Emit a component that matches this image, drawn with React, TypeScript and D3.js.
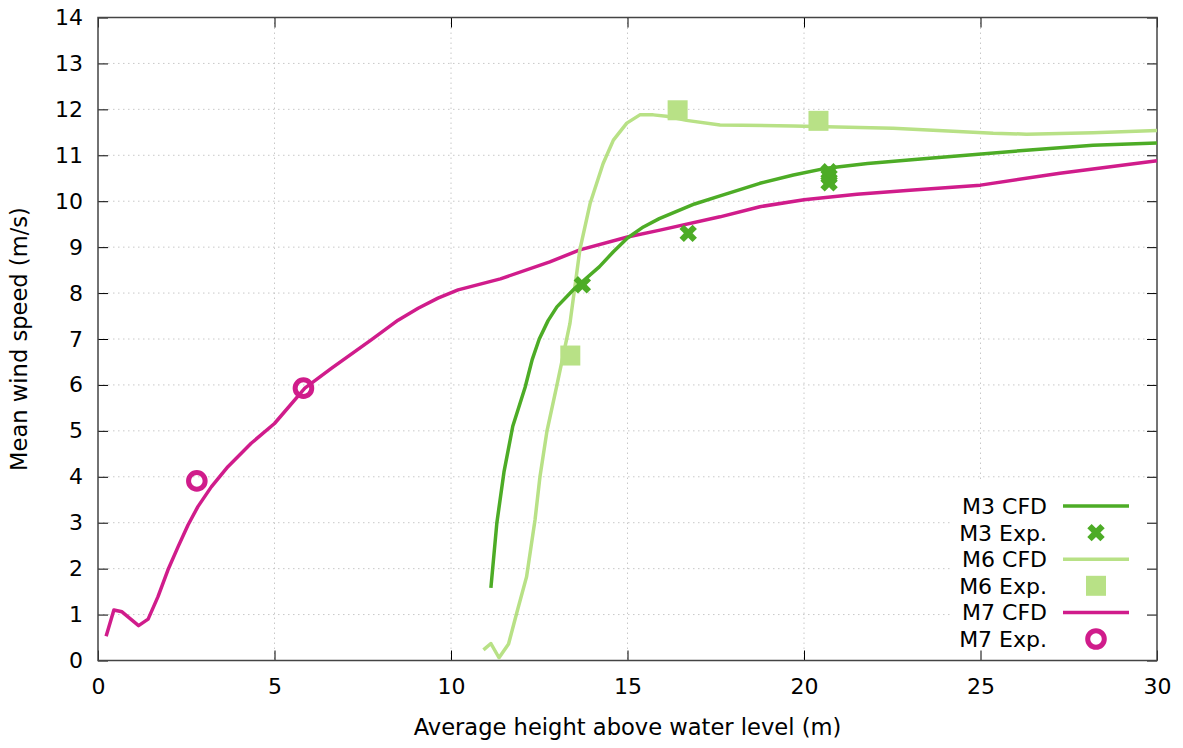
import { useEffect, useRef } from "react"
import * as d3 from "d3"

// M3 CFD (dark green)
const m3CfdX = [11.13, 11.3, 11.5, 11.75, 12.1, 12.3, 12.5, 12.75, 13.0, 13.5, 14.2, 14.6, 15.0, 15.45, 15.9, 16.9, 17.6, 18.75, 19.7, 20.64, 21.8, 23.47, 26.3, 28.19, 30.0]
const m3CfdY = [1.58, 3.0, 4.1, 5.1, 5.95, 6.55, 7.0, 7.4, 7.7, 8.1, 8.57, 8.9, 9.2, 9.44, 9.62, 9.94, 10.11, 10.39, 10.57, 10.72, 10.82, 10.93, 11.11, 11.22, 11.27]
const m3ExpX = [13.72, 16.72, 20.71, 20.71, 20.71]
const m3ExpY = [8.18, 9.3, 10.64, 10.54, 10.4]

// M6 CFD (light green)
const m6CfdX = [10.92, 11.13, 11.36, 11.63, 11.86, 12.14, 12.38, 12.52, 12.72, 12.99, 13.37, 13.65, 13.94, 14.31, 14.6, 14.98, 15.35, 15.73, 16.1, 16.67, 17.62, 19.7, 22.52, 25.36, 26.3, 28.19, 30.0]
const m6CfdY = [0.23, 0.37, 0.06, 0.36, 1.03, 1.82, 3.06, 4.0, 5.0, 5.96, 7.34, 8.94, 9.95, 10.82, 11.33, 11.7, 11.88, 11.88, 11.85, 11.76, 11.66, 11.64, 11.59, 11.48, 11.46, 11.49, 11.54]
const m6ExpX = [13.38, 16.42, 20.41]
const m6ExpY = [6.64, 11.98, 11.75]

// M7 CFD (magenta)
const m7CfdX = [0.23, 0.45, 0.68, 1.15, 1.42, 1.7, 1.98, 2.27, 2.55, 2.83, 3.21, 3.68, 4.34, 5.0, 5.86, 6.61, 7.74, 8.5, 9.07, 9.63, 10.2, 11.4, 12.8, 13.65, 15.0, 15.92, 17.62, 18.75, 20.0, 21.5, 23.0, 25.0, 27.25, 30.0]
const m7CfdY = [0.53, 1.1, 1.06, 0.76, 0.9, 1.39, 1.97, 2.48, 2.95, 3.35, 3.78, 4.22, 4.73, 5.16, 5.93, 6.36, 6.98, 7.41, 7.67, 7.89, 8.07, 8.31, 8.68, 8.94, 9.22, 9.37, 9.66, 9.88, 10.03, 10.15, 10.24, 10.35, 10.61, 10.88]
const m7ExpX = [2.8, 5.82]
const m7ExpY = [3.91, 5.93]

const xTicks = [0, 5, 10, 15, 20, 25, 30]
const yTicks = [0, 1, 2, 3, 4, 5, 6, 7, 8, 9, 10, 11, 12, 13, 14]

const legendLabels = ["M3 CFD", "M3 Exp.", "M6 CFD", "M6 Exp.", "M7 CFD", "M7 Exp."]

const C_M3 = "#4dac26"
const C_M6 = "#b8e186"
const C_M7 = "#d01c8b"

const zip = (xs: number[], ys: number[]) => xs.map((x, i) => [x, ys[i]] as [number, number])

export default function App() {
  const ref = useRef<SVGSVGElement>(null)

  useEffect(() => {
    if (!ref.current) return
    const el = ref.current
    d3.select(el).selectAll("*").remove()

    const W = 1183
    const H = 748
    const margin = { top: 17.5, right: 26, bottom: 87.5, left: 98 }
    const iW = W - margin.left - margin.right
    const iH = H - margin.top - margin.bottom
    const font = "'DejaVu Sans', sans-serif"

    const svg = d3.select(el).attr("width", W).attr("height", H).style("font-family", font)
    svg.append("rect").attr("width", W).attr("height", H).attr("fill", "#fff")

    const g = svg.append("g").attr("transform", `translate(${margin.left},${margin.top})`)

    const x = d3.scaleLinear().domain([0, 30]).range([0, iW])
    const y = d3.scaleLinear().domain([0, 14]).range([iH, 0])

    // Grid
    g.append("g")
      .selectAll("line")
      .data(yTicks.slice(1, -1))
      .join("line")
      .attr("x1", 0)
      .attr("x2", iW)
      .attr("y1", (d) => y(d))
      .attr("y2", (d) => y(d))
      .attr("stroke", "#c8c8c8")
      .attr("stroke-width", 1)
      .attr("stroke-dasharray", "1.5,3.5")
    g.append("g")
      .selectAll("line")
      .data(xTicks.slice(1, -1))
      .join("line")
      .attr("x1", (d) => x(d))
      .attr("x2", (d) => x(d))
      .attr("y1", 0)
      .attr("y2", iH)
      .attr("stroke", "#c8c8c8")
      .attr("stroke-width", 1)
      .attr("stroke-dasharray", "1.5,3.5")

    // Opaque key box
    const keyX = x(24.17)
    const keyY = y(3.94)
    g.append("rect")
      .attr("x", keyX)
      .attr("y", keyY)
      .attr("width", iW - keyX)
      .attr("height", iH - keyY)
      .attr("fill", "#fff")

    // Axes with mirrored inward ticks
    const tickLen = 10
    g.append("g")
      .attr("transform", `translate(0,${iH})`)
      .call(d3.axisBottom(x).tickValues(xTicks).tickSize(-tickLen).tickPadding(18))
      .call((ax) => ax.select(".domain").remove())
      .call((ax) => ax.selectAll(".tick line").attr("stroke", "#000"))
      .call((ax) => ax.selectAll(".tick text").attr("fill", "#000").attr("font-size", 22).attr("font-family", font))
    g.append("g")
      .call(d3.axisTop(x).tickValues(xTicks).tickSize(-tickLen).tickFormat(() => ""))
      .call((ax) => ax.select(".domain").remove())
      .call((ax) => ax.selectAll(".tick line").attr("stroke", "#000"))
    g.append("g")
      .call(d3.axisLeft(y).tickValues(yTicks).tickSize(-tickLen).tickPadding(15))
      .call((ax) => ax.select(".domain").remove())
      .call((ax) => ax.selectAll(".tick line").attr("stroke", "#000"))
      .call((ax) => ax.selectAll(".tick text").attr("fill", "#000").attr("font-size", 22).attr("font-family", font))
    g.append("g")
      .attr("transform", `translate(${iW},0)`)
      .call(d3.axisRight(y).tickValues(yTicks).tickSize(-tickLen).tickFormat(() => ""))
      .call((ax) => ax.select(".domain").remove())
      .call((ax) => ax.selectAll(".tick line").attr("stroke", "#000"))

    g.append("rect")
      .attr("width", iW)
      .attr("height", iH)
      .attr("fill", "none")
      .attr("stroke", "#444")
      .attr("stroke-width", 1.5)

    // Axis titles
    svg.append("text")
      .attr("x", margin.left + iW / 2)
      .attr("y", 735)
      .attr("text-anchor", "middle")
      .attr("font-size", 22.6)
      .attr("fill", "#000")
      .text("Average height above water level (m)")
    svg.append("text")
      .attr("transform", `translate(27,${margin.top + iH / 2}) rotate(-90)`)
      .attr("text-anchor", "middle")
      .attr("font-size", 22.6)
      .attr("fill", "#000")
      .text("Mean wind speed (m/s)")

    // Lines
    const line = d3
      .line<[number, number]>()
      .x((d) => x(d[0]))
      .y((d) => y(d[1]))

    const plot = g.append("g")
    const lineW = 3.5
    ;[
      { data: zip(m7CfdX, m7CfdY), color: C_M7 },
      { data: zip(m6CfdX, m6CfdY), color: C_M6 },
      { data: zip(m3CfdX, m3CfdY), color: C_M3 },
    ].forEach((s) => {
      plot.append("path")
        .datum(s.data)
        .attr("fill", "none")
        .attr("stroke", s.color)
        .attr("stroke-width", lineW)
        .attr("stroke-linejoin", "round")
        .attr("d", line)
    })

    const crossPath = d3.symbol().type(d3.symbolCross).size(190)()
    const drawCross = (sel: d3.Selection<SVGGElement, unknown, null, undefined>, px: number, py: number) =>
      sel.append("path")
        .attr("d", crossPath)
        .attr("transform", `translate(${px},${py}) rotate(45)`)
        .attr("fill", C_M3)
    const drawSquare = (sel: d3.Selection<SVGGElement, unknown, null, undefined>, px: number, py: number) =>
      sel.append("rect")
        .attr("x", px - 10)
        .attr("y", py - 10)
        .attr("width", 20)
        .attr("height", 20)
        .attr("fill", C_M6)
    const drawCircle = (sel: d3.Selection<SVGGElement, unknown, null, undefined>, px: number, py: number) =>
      sel.append("circle")
        .attr("cx", px)
        .attr("cy", py)
        .attr("r", 8.3)
        .attr("fill", "none")
        .attr("stroke", C_M7)
        .attr("stroke-width", 5)

    zip(m6ExpX, m6ExpY).forEach((d) => drawSquare(plot, x(d[0]), y(d[1])))
    zip(m3ExpX, m3ExpY).forEach((d) => drawCross(plot, x(d[0]), y(d[1])))
    zip(m7ExpX, m7ExpY).forEach((d) => drawCircle(plot, x(d[0]), y(d[1])))

    // Legend
    const key = svg.append("g")
    const rowY0 = 506
    const rowH = 26.6
    const textRight = 1047
    const sx0 = 1063
    const sx1 = 1129
    legendLabels.forEach((label, i) => {
      const ry = rowY0 + i * rowH
      key.append("text")
        .attr("x", textRight)
        .attr("y", ry)
        .attr("dy", "0.36em")
        .attr("text-anchor", "end")
        .attr("font-size", 22)
        .attr("fill", "#000")
        .text(label)
      const mid = (sx0 + sx1) / 2
      if (i === 0 || i === 2 || i === 4) {
        const color = i === 0 ? C_M3 : i === 2 ? C_M6 : C_M7
        key.append("line")
          .attr("x1", sx0)
          .attr("x2", sx1)
          .attr("y1", ry)
          .attr("y2", ry)
          .attr("stroke", color)
          .attr("stroke-width", lineW)
      } else if (i === 1) {
        drawCross(key, mid, ry)
      } else if (i === 3) {
        drawSquare(key, mid, ry)
      } else {
        drawCircle(key, mid, ry)
      }
    })
  }, [])

  return (
    <div style={{ position: "absolute", left: 0, top: 0 }}>
      <svg ref={ref} style={{ display: "block" }} />
    </div>
  )
}
